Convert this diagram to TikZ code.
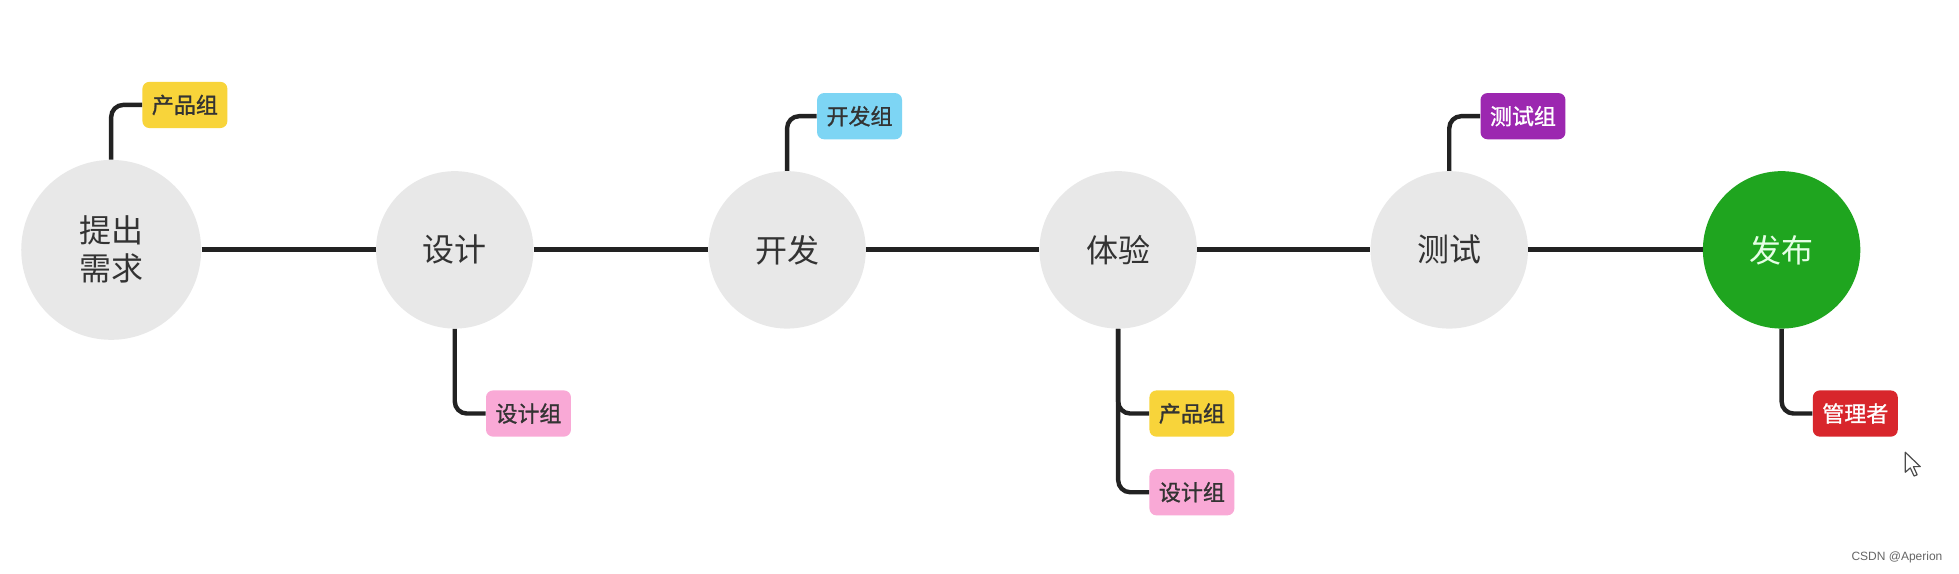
\documentclass[tikz,border=0pt]{standalone}
\usepackage{fontspec}
\setmainfont{Noto Sans CJK SC}
\newfontfamily\tagfont[FakeBold=1.2]{Noto Sans CJK SC}
\newfontfamily\wmfont{Liberation Sans}
\begin{document}
\begin{tikzpicture}[x=0.6247pt,y=-0.6247pt,
  stage/.style={circle,fill=stagegray,minimum size=126*0.6247pt,inner sep=0pt,
    font=\fontsize{16}{19}\selectfont,text=stagetext,align=center},
  tag/.style={rounded corners=3.5pt,minimum width=68*0.6247pt,minimum height=37*0.6247pt,
    inner sep=0pt,font=\tagfont\fontsize{11}{13}\selectfont,text=tagtext},
  spine/.style={line width=2.6pt,draw=linecol},
  twig/.style={line width=2.2pt,draw=linecol,rounded corners=6pt}]
\definecolor{stagegray}{HTML}{E8E8E8}
\definecolor{stagetext}{HTML}{333333}
\definecolor{tagtext}{HTML}{333333}
\definecolor{linecol}{HTML}{222222}
\definecolor{yel}{HTML}{F8D43A}
\definecolor{blu}{HTML}{7DD5F4}
\definecolor{pur}{HTML}{9C27B0}
\definecolor{pnk}{HTML}{F9A9D6}
\definecolor{redc}{HTML}{D8262C}
\definecolor{grn}{HTML}{1FA51F}
\useasboundingbox[fill=white] (0,0) rectangle (1568,459);

\node[stage,minimum size=144*0.6247pt] (c1) at (89,200) {提出\\需求};
\node[stage] (c2) at (364,200) {设计};
\node[stage] (c3) at (630,200) {开发};
\node[stage] (c4) at (895,200) {体验};
\node[stage] (c5) at (1160,200) {测试};
\node[stage,fill=grn,text=white!90!green] (c6) at (1426,200) {发布};

\draw[spine] (c1.east) -- (c2.west);
\draw[spine] (c2.east) -- (c3.west);
\draw[spine] (c3.east) -- (c4.west);
\draw[spine] (c4.east) -- (c5.west);
\draw[spine] (c5.east) -- (c6.west);

\node[tag,fill=yel] (t1) at (148,84) {产品组};
\node[tag,fill=pnk] (t2) at (423,331) {设计组};
\node[tag,fill=blu] (t3) at (688,93) {开发组};
\node[tag,fill=yel] (t4a) at (954,331) {产品组};
\node[tag,fill=pnk] (t4b) at (954,394) {设计组};
\node[tag,fill=pur,text=white] (t5) at (1219,93) {测试组};
\node[tag,fill=redc,text=white] (t6) at (1485,331) {管理者};

\draw[twig] (c1.north) |- (t1.west);
\draw[twig] (c2.south) |- (t2.west);
\draw[twig] (c3.north) |- (t3.west);
\draw[twig] (c4.south) |- (t4a.west);
\draw[twig] (c4.south) |- (t4b.west);
\draw[twig] (c5.north) |- (t5.west);
\draw[twig] (c6.south) |- (t6.west);

% mouse pointer
\draw[fill=white,draw=black!70,line width=0.6pt,line join=round]
  (1525,362) -- (1525,378) -- (1529,374.5) -- (1532,381) -- (1534.5,380) -- (1531.5,373.5) -- (1537,373.5) -- cycle;

\node[font=\wmfont\fontsize{6}{7}\selectfont,text=black!60,anchor=east,inner sep=0pt] (wm) at (1555,446) {CSDN @Aperion};
\end{tikzpicture}
\end{document}
